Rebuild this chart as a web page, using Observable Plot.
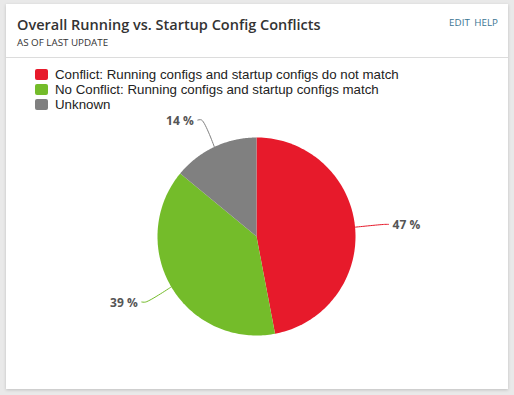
<!DOCTYPE html>
<html><head><meta charset="utf-8">
<script src="https://cdn.jsdelivr.net/npm/d3@7"></script>
<script src="https://cdn.jsdelivr.net/npm/@observablehq/plot@0.6"></script>
<style>
html,body{margin:0;padding:0;width:514px;height:395px;background:#e9e9e9;overflow:hidden}
#card{position:absolute;left:6px;top:4px;width:502px;height:385px;background:#fff;box-shadow:0 1px 3px rgba(0,0,0,0.18)}
#title{position:absolute;left:11px;top:11px;font:600 14.5px "Open Sans",sans-serif;color:#333;white-space:nowrap}
#sub{position:absolute;left:11px;top:32px;font:400 9.8px "Open Sans",sans-serif;color:#333;white-space:nowrap}
#links{position:absolute;right:10px;top:12px;font:400 9.8px "Open Sans",sans-serif;color:#3a7592;white-space:nowrap;word-spacing:2px}
#sep{position:absolute;left:0;right:0;top:53px;border-top:1px solid #dcdcdc}
#legend{position:absolute;left:29px;top:63px;font:13.3px "Liberation Sans",Arial,sans-serif;color:#222}
.row{height:15px;line-height:15px;display:flex;align-items:center;white-space:nowrap}
.sw{width:13px;height:11px;border-radius:2px;margin-right:7px}
#chart{position:absolute;left:56px;top:112px}
</style></head><body>
<div id="card">
<div id="title">Overall Running vs. Startup Config Conflicts</div>
<div id="sub">AS OF LAST UPDATE</div>
<div id="links">EDIT HELP</div>
<div id="sep"></div>
<div id="legend"></div>
</div>
<div id="chart"></div>
<script>
const categories = ["Conflict: Running configs and startup configs do not match", "No Conflict: Running configs and startup configs match", "Unknown"];
const values = [47, 39, 14];
const colors = ["#e71a2b", "#74bc2a", "#808080"];

const legend = document.getElementById("legend");
categories.forEach((c, i) => {
  const r = document.createElement("div"); r.className = "row";
  const s = document.createElement("div"); s.className = "sw"; s.style.background = colors[i];
  const t = document.createElement("span"); t.textContent = c;
  r.appendChild(s); r.appendChild(t); legend.appendChild(r);
});

const arcs = d3.pie().sort(null).value(d => d)(values);
const wedges = [];
arcs.forEach((a, i) => {
  wedges.push({k: i, x: 0, y: 0});
  const n = 120;
  for (let j = 0; j <= n; j++) {
    const t = a.startAngle + (a.endAngle - a.startAngle) * j / n;
    wedges.push({k: i, x: Math.sin(t), y: Math.cos(t)});
  }
  wedges.push({k: i, x: 0, y: 0});
});
const leaders = [];
const labels = [];
arcs.forEach((a, i) => {
  const m = (a.startAngle + a.endAngle) / 2;
  const sx = Math.sin(m), sy = Math.cos(m);
  const side = sx >= 0 ? 1 : -1;
  leaders.push({k: i, x: sx, y: sy});
  leaders.push({k: i, x: sx * 1.3, y: sy * 1.3});
  leaders.push({k: i, x: sx * 1.3 + side * 0.04, y: sy * 1.3});
  labels.push({k: i, x: sx * 1.3 + side * 0.04, y: sy * 1.3, side, text: values[i] + " %"});
});

const plot = Plot.plot({
  width: 400, height: 250,
  marginLeft: 101, marginRight: 101, marginTop: 25, marginBottom: 27,
  x: {domain: [-1, 1], axis: null},
  y: {domain: [-1, 1], axis: null},
  style: {background: "transparent", overflow: "visible"},
  marks: [
    Plot.line(wedges, {x: "x", y: "y", z: "k", fill: d => colors[d.k], stroke: "none", curve: "linear"}),
    Plot.line(leaders, {x: "x", y: "y", z: "k", stroke: d => colors[d.k], strokeWidth: 1, curve: "catmull-rom"}),
    Plot.text(labels.filter(d => d.side > 0), {x: "x", y: "y", text: "text", textAnchor: "start", dx: 4, dy: 1, fill: "#555", fontWeight: "bold", fontSize: 12, fontFamily: "Open Sans, sans-serif"}),
    Plot.text(labels.filter(d => d.side < 0), {x: "x", y: "y", text: "text", textAnchor: "end", dx: -4, dy: 1, fill: "#555", fontWeight: "bold", fontSize: 12, fontFamily: "Open Sans, sans-serif"})
  ]
});
document.getElementById("chart").appendChild(plot);
</script>
</body></html>
